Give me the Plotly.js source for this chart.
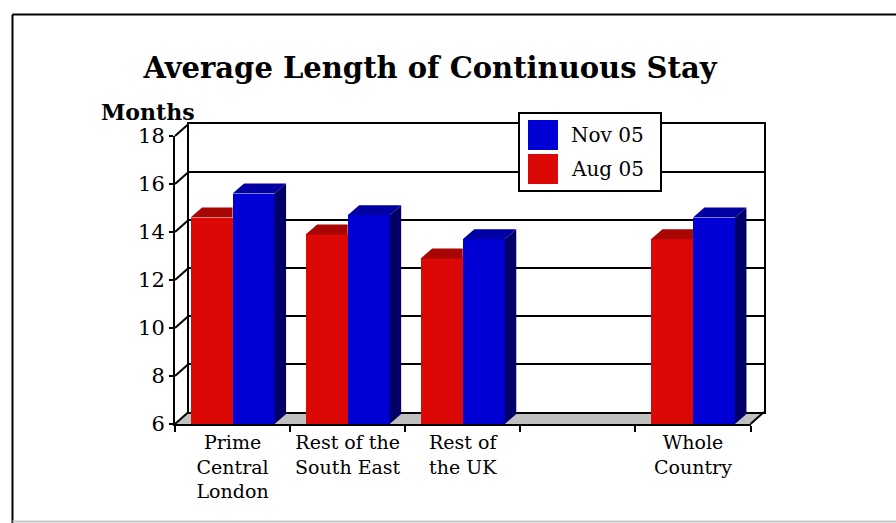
<!DOCTYPE html>
<html>
<head>
<meta charset="utf-8">
<script src="https://cdn.plot.ly/plotly-3.0.1.min.js"></script>
<style>
  html, body { margin: 0; padding: 0; background: #ffffff; }
  #chart { width: 896px; height: 523px; }
</style>
</head>
<body>
<div id="chart"></div>
<script>
// ---- data ----
const categories = ['Prime<br>Central<br>London', 'Rest of the<br>South East', 'Rest of<br>the UK', '', 'Whole<br>Country'];
const seriesNames = ['Aug 05', 'Nov 05'];
const aug05 = [14.6, 13.9, 12.9, null, 13.7];
const nov05 = [15.6, 14.7, 13.7, null, 14.6];
const yTicks = [6, 8, 10, 12, 14, 16, 18];

// ---- geometry (pixels) ----
const W = 896, H = 523;
const M = { l: 175, r: 132, t: 124, b: 99 };
const PW = W - M.l - M.r;          // plot area width
const PH = H - M.t - M.b;          // plot area height
const WALL_DX = 13.5, WALL_DY = 12; // depth of the floor / back wall
const BAR_DX = 11.5, BAR_DY = 10;   // depth of each column
const BAR_W = 0.365;                // column width in category units

const frontX = [0, (PW - WALL_DX) / PW];
const frontY = [0, (PH - WALL_DY) / PH];
const backX = [WALL_DX / PW, 1];
const backY = [WALL_DY / PH, 1];

const xs = categories.map((_, i) => i);
const xRange = [-0.5, categories.length - 0.5];
const yRange = [yTicks[0], yTicks[yTicks.length - 1]];

// pixel depth converted to front-axis data units
const pxPerX = (PW - WALL_DX) / (xRange[1] - xRange[0]);
const pxPerY = (PH - WALL_DY) / (yRange[1] - yRange[0]);
const bdx = BAR_DX / pxPerX;
const bdy = BAR_DY / pxPerY;

const colors = {
  aug: { front: '#dc0806', top: '#a80505', side: '#7a0303' },
  nov: { front: '#0000d4', top: '#0000a3', side: '#000066' }
};

const serif = 'DejaVu Serif, Liberation Serif, serif';

function px2paperX(p) { return (p - M.l) / PW; }
function px2paperY(p) { return (H - M.b - p) / PH; }

// ---- traces ----
const traces = [];

// placeholder so the back-wall subplot exists
traces.push({ x: [null], y: [null], xaxis: 'x', yaxis: 'y', mode: 'lines',
  showlegend: false, hoverinfo: 'skip' });

// front faces of the columns
traces.push({ type: 'bar', name: seriesNames[0], x: xs, y: aug05, width: BAR_W, offset: -BAR_W,
  xaxis: 'x2', yaxis: 'y2', marker: { color: colors.aug.front, line: { width: 0 } }, showlegend: false });
traces.push({ type: 'bar', name: seriesNames[1], x: xs, y: nov05, width: BAR_W, offset: 0,
  xaxis: 'x2', yaxis: 'y2', marker: { color: colors.nov.front, line: { width: 0 } }, showlegend: false });

// top and side faces, built from the same values
function facePoly(pts, color) {
  return { x: pts.map(p => p[0]).concat([pts[0][0]]), y: pts.map(p => p[1]).concat([pts[0][1]]),
    xaxis: 'x2', yaxis: 'y2', mode: 'lines', fill: 'toself', fillcolor: color,
    line: { width: 0, color: color }, showlegend: false, hoverinfo: 'skip' };
}
const base = yRange[0];
xs.forEach((c, i) => {
  const a = aug05[i], n = nov05[i];
  if (a != null) {
    const xl = c - BAR_W, xr = c;
    // the right part of this top is hidden behind the neighbouring column
    traces.push(facePoly([[xl, a], [xl + bdx, a + bdy], [xr, a + bdy], [xr, a]], colors.aug.top));
  }
  if (n != null) {
    const xl = c, xr = c + BAR_W;
    traces.push(facePoly([[xl, n], [xl + bdx, n + bdy], [xr + bdx, n + bdy], [xr, n]], colors.nov.top));
    traces.push(facePoly([[xr, base], [xr, n], [xr + bdx, n + bdy], [xr + bdx, base + bdy]], colors.nov.side));
  }
});

// ---- shapes: frame, floor, depth edges, legend ----
const shapes = [];
// outer frame
shapes.push({ type: 'line', xref: 'paper', yref: 'paper', x0: px2paperX(12.5), x1: px2paperX(W + 5),
  y0: px2paperY(14.5), y1: px2paperY(14.5), line: { color: '#000', width: 2 } });
shapes.push({ type: 'line', xref: 'paper', yref: 'paper', x0: px2paperX(12.5), x1: px2paperX(12.5),
  y0: px2paperY(14.5), y1: px2paperY(H + 5), line: { color: '#000', width: 2 } });
shapes.push({ type: 'line', xref: 'paper', yref: 'paper', x0: px2paperX(12.5), x1: px2paperX(W + 5),
  y0: px2paperY(521.5), y1: px2paperY(521.5), line: { color: '#c8c8c8', width: 2 } });

// floor
shapes.push({ type: 'path', xref: 'paper', yref: 'paper', layer: 'below',
  path: `M ${frontX[0]},${frontY[0]} L ${frontX[1]},${frontY[0]} L ${backX[1]},${backY[0]} L ${backX[0]},${backY[0]} Z`,
  fillcolor: '#c0c0c0', line: { width: 0 } });

// connectors from front value ticks to back wall gridlines
yTicks.forEach(v => {
  const f = frontY[0] + (v - yRange[0]) / (yRange[1] - yRange[0]) * (frontY[1] - frontY[0]);
  const b = backY[0] + (v - yRange[0]) / (yRange[1] - yRange[0]) * (backY[1] - backY[0]);
  shapes.push({ type: 'line', xref: 'paper', yref: 'paper', x0: frontX[0], y0: f, x1: backX[0], y1: b,
    line: { color: '#000', width: 2 } });
});
// right floor edge
shapes.push({ type: 'line', xref: 'paper', yref: 'paper', x0: frontX[1], y0: frontY[0], x1: backX[1], y1: backY[0],
  line: { color: '#000', width: 2 } });

// legend box
const LEG = { x0: 519, x1: 661, y0: 113, y1: 191 };
shapes.push({ type: 'rect', xref: 'paper', yref: 'paper', layer: 'above',
  x0: px2paperX(LEG.x0), x1: px2paperX(LEG.x1), y0: px2paperY(LEG.y1), y1: px2paperY(LEG.y0),
  fillcolor: '#ffffff', line: { color: '#000', width: 2 } });
const legendItems = [
  { name: seriesNames[1], color: colors.nov.front, cy: 135 },
  { name: seriesNames[0], color: colors.aug.front, cy: 169 }
];
const annotations = [];
legendItems.forEach(it => {
  shapes.push({ type: 'rect', xref: 'paper', yref: 'paper', layer: 'above',
    x0: px2paperX(528), x1: px2paperX(558), y0: px2paperY(it.cy + 15), y1: px2paperY(it.cy - 15),
    fillcolor: it.color, line: { width: 0 } });
  annotations.push({ xref: 'paper', yref: 'paper', x: px2paperX(569), y: px2paperY(it.cy),
    xanchor: 'left', yanchor: 'middle', showarrow: false, text: it.name,
    font: { family: serif, size: 20, color: '#000' } });
});

// value axis caption
annotations.push({ xref: 'paper', yref: 'paper', x: px2paperX(148), y: px2paperY(112),
  xanchor: 'center', yanchor: 'middle', showarrow: false, text: '<b>Months</b>',
  font: { family: serif, size: 22, color: '#000' } });

// ---- layout ----
const layout = {
  width: W, height: H,
  margin: M,
  paper_bgcolor: '#ffffff',
  plot_bgcolor: 'rgba(0,0,0,0)',
  showlegend: false,
  title: { text: '<b>Average Length of Continuous Stay</b>', xref: 'container', yref: 'container',
    x: 430 / W, y: 1 - 68 / H, xanchor: 'center', yanchor: 'middle',
    font: { family: serif, size: 29, color: '#000' } },
  // back wall
  xaxis: { domain: backX, range: xRange, anchor: 'y', showline: true, mirror: true, linecolor: '#000', linewidth: 2,
    showgrid: false, zeroline: false, ticks: '', showticklabels: false, fixedrange: true },
  yaxis: { domain: backY, range: yRange, anchor: 'x', tickmode: 'array', tickvals: yTicks,
    showgrid: true, gridcolor: '#000', gridwidth: 2, showline: true, mirror: true, linecolor: '#000', linewidth: 2,
    zeroline: false, ticks: '', showticklabels: false, fixedrange: true },
  // front plane
  xaxis2: { domain: frontX, range: xRange, anchor: 'y2', tickmode: 'array', tickvals: xs, ticktext: categories,
    ticks: '', showline: true, linecolor: '#000', linewidth: 2, showgrid: false, zeroline: false,
    tickfont: { family: serif, size: 19, color: '#000' },
    minor: { tickmode: 'array', tickvals: xs.concat([xs.length]).map(v => v - 0.5), ticks: 'outside', ticklen: 6,
      tickwidth: 2, tickcolor: '#000', showgrid: false },
    fixedrange: true },
  yaxis2: { domain: frontY, range: yRange, anchor: 'x2', tickmode: 'array', tickvals: yTicks,
    ticks: 'outside', ticklen: 4, tickwidth: 2, tickcolor: '#000', showline: true, linecolor: '#000', linewidth: 2,
    showgrid: false, zeroline: false, tickfont: { family: serif, size: 21, color: '#000' }, fixedrange: true },
  bargap: 0, bargroupgap: 0, barmode: 'overlay',
  shapes: shapes,
  annotations: annotations
};

Plotly.newPlot('chart', traces, layout, { displayModeBar: false, staticPlot: true });
</script>
</body>
</html>
